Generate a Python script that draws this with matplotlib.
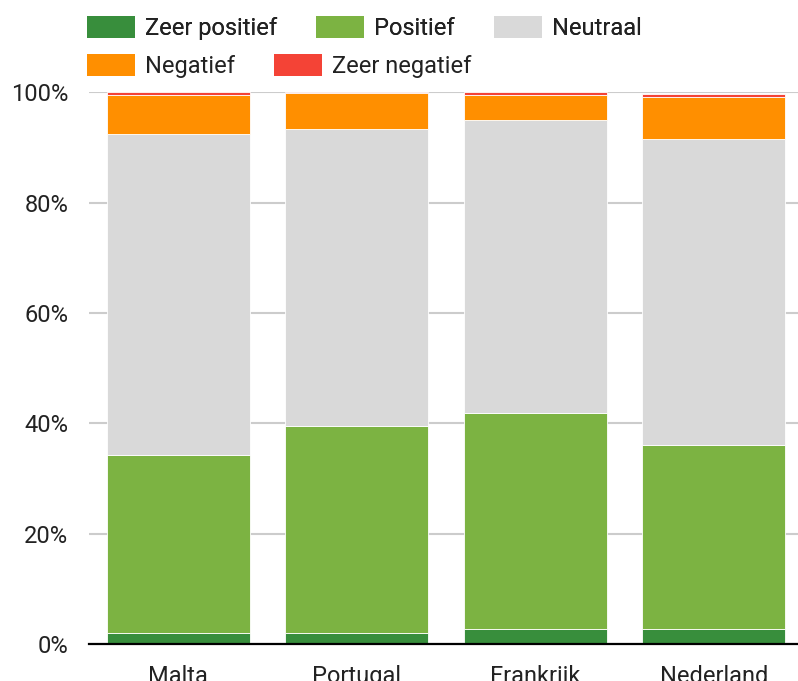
import numpy as np
import matplotlib.pyplot as plt
from matplotlib.patches import Patch

plt.rcParams['font.family'] = ['Roboto', 'DejaVu Sans']

landen = ["Malta", "Portugal", "Frankrijk", "Nederland"]
reeksen = ["Zeer positief", "Positief", "Neutraal", "Negatief", "Zeer negatief"]
kleuren = ["#388E3C", "#7CB342", "#D9D9D9", "#FF8F00", "#F44336"]

# aandelen in procent per land
zeer_positief = [2.0, 2.0, 2.7, 2.7]
positief = [32.3, 37.6, 39.1, 33.4]
neutraal = [58.1, 53.8, 53.1, 55.4]
negatief = [7.1, 6.4, 4.6, 7.6]
zeer_negatief = [0.5, 0.2, 0.5, 0.6]

yticks = [0, 20, 40, 60, 80, 100]
ytick_labels = ["0%", "20%", "40%", "60%", "80%", "100%"]

W, H = 798, 681
fig = plt.figure(figsize=(W / 100, H / 100), dpi=100)
ax = fig.add_axes([89 / W, 37 / H, 714 / W, 551.7 / H])

tekstkleur = "#222222"
fs = 17

x = np.arange(len(landen))
onder = np.zeros(len(landen))
for naam, waarden, kleur in zip(reeksen,
                                [zeer_positief, positief, neutraal, negatief, zeer_negatief],
                                kleuren):
    ax.bar(x, waarden, width=0.8, bottom=onder, color=kleur,
           edgecolor="white", linewidth=0.6, zorder=3)
    onder += np.array(waarden)

ax.set_xlim(-0.5, len(landen) - 0.5)
ax.set_ylim(0, 100)
ax.set_yticks(yticks)
ax.set_yticklabels(ytick_labels)
ax.set_xticks(x)
ax.set_xticklabels(landen)
ax.tick_params(axis="y", length=0, pad=15, labelsize=fs, labelcolor=tekstkleur)
ax.tick_params(axis="x", length=0, pad=15, labelsize=fs, labelcolor=tekstkleur)
ax.yaxis.grid(True, color="#cccccc", linewidth=1.5, zorder=0)
ax.set_axisbelow(True)
for kant in ["top", "left", "right"]:
    ax.spines[kant].set_visible(False)
ax.spines["bottom"].set_color("black")
ax.spines["bottom"].set_linewidth(1.6)
ax.spines["bottom"].set_zorder(4)

handles = [Patch(facecolor=k, edgecolor="none") for k in kleuren]
opties = dict(frameon=False, fontsize=fs, borderpad=0, borderaxespad=0,
              handlelength=2.03, handleheight=1.09, handletextpad=0.42,
              columnspacing=1.65, labelcolor=tekstkleur, loc="center left",
              bbox_transform=fig.transFigure)
leg1 = fig.legend(handles[:3], reeksen[:3], ncol=3,
                  bbox_to_anchor=(87.3 / W, 1 - 28 / H), **opties)
fig.add_artist(leg1)
leg2 = fig.legend(handles[3:], reeksen[3:], ncol=2,
                  bbox_to_anchor=(87.3 / W, 1 - 66 / H), **opties)

fig.savefig("out.png", dpi=100)
